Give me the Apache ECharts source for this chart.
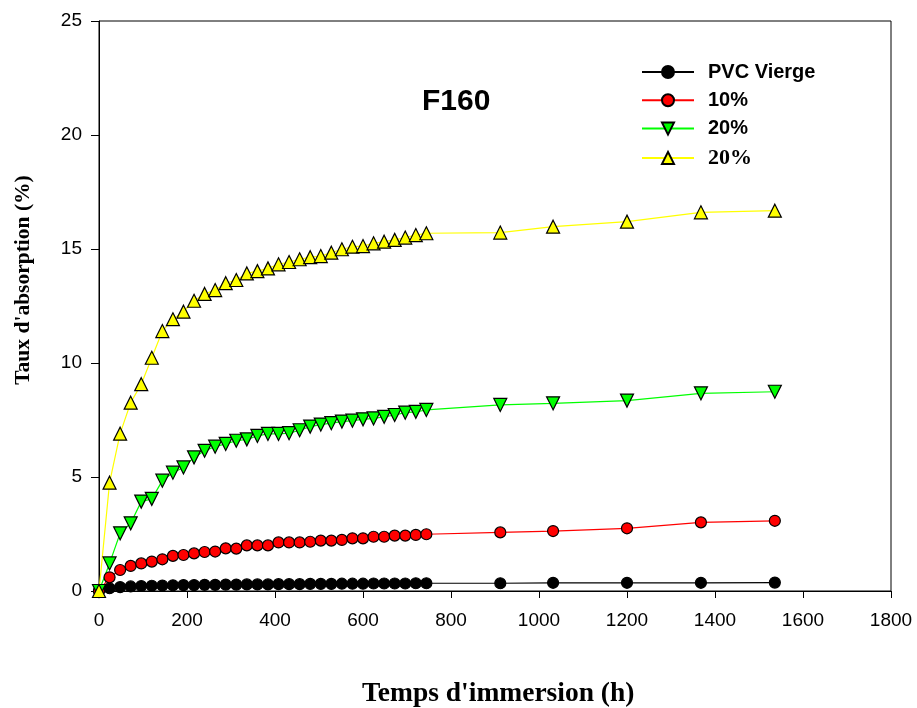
<!DOCTYPE html>
<html>
<head>
<meta charset="utf-8">
<title>F160 - Taux d'absorption</title>
<script src="https://cdn.jsdelivr.net/npm/echarts@6/dist/echarts.min.js"></script>
<style>
  html, body { margin: 0; padding: 0; background: #ffffff; }
  #chart { width: 917px; height: 708px; }
</style>
</head>
<body>
<div id="chart"></div>
<script>
// Immersion times (h)
const hours = [0, 24, 48, 72, 96, 120, 144, 168, 192, 216, 240, 264, 288, 312, 336, 360,
  384, 408, 432, 456, 480, 504, 528, 552, 576, 600, 624, 648, 672, 696, 720, 744,
  912, 1032, 1200, 1368, 1536];

// Absorption rate (%) for each formulation
const pvcVierge = [0, 0.12, 0.17, 0.2, 0.22, 0.23, 0.24, 0.25, 0.26, 0.26, 0.27, 0.27, 0.28, 0.28, 0.29, 0.29,
  0.29, 0.3, 0.3, 0.3, 0.31, 0.31, 0.31, 0.32, 0.32, 0.32, 0.33, 0.33, 0.33, 0.33, 0.34, 0.34,
  0.34, 0.36, 0.36, 0.36, 0.37];
const pct10 = [0, 0.6, 0.92, 1.1, 1.21, 1.29, 1.39, 1.54, 1.58, 1.65, 1.71, 1.73, 1.87, 1.86, 2.0, 2.0,
  2.0, 2.13, 2.13, 2.13, 2.16, 2.21, 2.21, 2.24, 2.31, 2.31, 2.38, 2.38, 2.43, 2.43, 2.46, 2.49,
  2.57, 2.63, 2.75, 3.01, 3.08];
const pct20a = [0, 1.21, 2.53, 2.97, 3.92, 4.04, 4.84, 5.19, 5.42, 5.86, 6.15, 6.33, 6.45, 6.59, 6.65, 6.8,
  6.89, 6.89, 6.92, 7.05, 7.21, 7.3, 7.36, 7.43, 7.47, 7.53, 7.57, 7.64, 7.72, 7.82, 7.86, 7.94,
  8.16, 8.23, 8.35, 8.67, 8.74];
const pct20b = [0, 4.75, 6.9, 8.26, 9.07, 10.23, 11.4, 11.92, 12.25, 12.73, 13.03, 13.2, 13.5, 13.64, 13.93, 14.03,
  14.15, 14.33, 14.43, 14.55, 14.64, 14.69, 14.84, 14.99, 15.1, 15.13, 15.25, 15.32, 15.4, 15.5, 15.61, 15.69,
  15.72, 15.98, 16.2, 16.61, 16.68];

// Legend labels (the second "20%" carries a trailing space so both entries stay distinct)
const seriesNames = ['PVC Vierge', '10%', '20%', '20% '];

const SANS = '"Liberation Sans", Arial, sans-serif';
const SERIF = '"Liberation Serif", "Times New Roman", serif';

function pairs(ys) {
  return hours.map((h, i) => [h, ys[i]]);
}

function makeSeries(name, ys, color, symbol, size, rotate) {
  return {
    name: name,
    type: 'line',
    data: pairs(ys),
    symbol: symbol,
    symbolSize: size,
    symbolRotate: rotate || 0,
    clip: false,
    showAllSymbol: true,
    animation: false,
    lineStyle: { color: color, width: 1.2 },
    itemStyle: { color: color, borderColor: '#000000', borderWidth: 1.2 },
    emphasis: { disabled: true }
  };
}

const chart = echarts.init(document.getElementById('chart'), null, { renderer: 'canvas' });

chart.setOption({
  backgroundColor: '#ffffff',
  animation: false,
  title: {
    text: 'F160',
    left: 417,
    top: 82,
    textStyle: { fontFamily: SANS, fontWeight: 'bold', fontSize: 30, color: '#000' }
  },
  legend: {
    orient: 'vertical',
    left: 641,
    top: 62,
    padding: 0,
    itemWidth: 52,
    itemHeight: 15,
    itemGap: 8.3,
    selectedMode: false,
    data: [
      { name: seriesNames[0] },
      { name: seriesNames[1] },
      { name: seriesNames[2] },
      { name: seriesNames[3], textStyle: { fontFamily: SERIF, fontSize: 22 } }
    ],
    textStyle: {
      fontFamily: SANS, fontWeight: 'bold', fontSize: 20,
      color: '#000', padding: [0, 0, 0, 9]
    }
  },
  grid: {
    left: 99,
    right: 26,
    top: 21,
    bottom: 117,
    show: true,
    borderColor: '#000',
    borderWidth: 1,
    containLabel: false
  },
  xAxis: {
    type: 'value',
    min: 0,
    max: 1800,
    interval: 200,
    axisLine: { show: true, lineStyle: { color: '#000', width: 1 } },
    axisTick: { show: true, inside: false, length: 7, lineStyle: { color: '#000', width: 1 } },
    axisLabel: {
      margin: 20, fontFamily: SANS, fontSize: 19, color: '#000',
      formatter: (v) => String(v)
    },
    splitLine: { show: false }
  },
  yAxis: {
    type: 'value',
    min: 0,
    max: 25,
    interval: 5,
    axisLine: { show: true, lineStyle: { color: '#000', width: 1 } },
    axisTick: { show: true, inside: false, length: 8, lineStyle: { color: '#000', width: 1 } },
    axisLabel: { margin: 17, fontFamily: SANS, fontSize: 19, color: '#000', formatter: (v) => String(v) },
    splitLine: { show: false }
  },
  graphic: [
    {
      type: 'text',
      left: 362,
      top: 680,
      style: {
        text: "Temps d'immersion (h)",
        font: 'bold 27.5px ' + SERIF,
        fill: '#000'
      }
    },
    {
      type: 'text',
      x: 23,
      y: 280,
      rotation: Math.PI / 2,
      style: {
        text: "Taux d'absorption (%)",
        font: 'bold 21.5px ' + SERIF,
        fill: '#000',
        align: 'center',
        verticalAlign: 'middle'
      }
    }
  ],
  series: [
    makeSeries(seriesNames[0], pvcVierge, '#000000', 'circle', 11),
    makeSeries(seriesNames[1], pct10, '#ff0000', 'circle', 11),
    makeSeries(seriesNames[2], pct20a, '#00ff00', 'triangle', 13, 180),
    makeSeries(seriesNames[3], pct20b, '#ffff00', 'triangle', 13)
  ]
});
</script>
</body>
</html>
